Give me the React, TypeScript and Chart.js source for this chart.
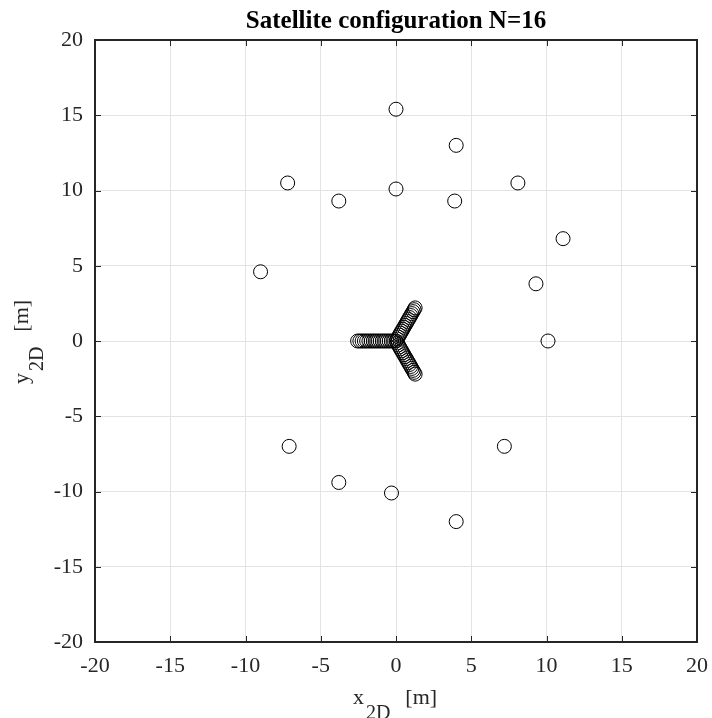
import React, { useEffect, useRef } from "react";
import { Chart, registerables } from "chart.js";

Chart.register(...registerables);

const TITLE = "Satellite configuration N=16";
const X_TICKS = [-20, -15, -10, -5, 0, 5, 10, 15, 20];
const Y_TICKS = [-20, -15, -10, -5, 0, 5, 10, 15, 20];

// outer satellites
const satX = [0.0, 4.0, -7.2, 0.0, -3.8, 3.9, 8.1, 11.1, 9.3, -9.0, 10.1, -7.1, 7.2, -3.8, -0.3, 4.0];
const satY = [15.4, 13.0, 10.5, 10.1, 9.3, 9.3, 10.5, 6.8, 3.8, 4.6, 0.0, -7.0, -7.0, -9.4, -10.1, -12.0];

// central three-armed cluster
const leftArmX = [0, -0.15, -0.3, -0.45, -0.6, -0.75, -0.9, -1.05, -1.2, -1.35, -1.5, -1.65, -1.8, -1.95, -2.1, -2.25, -2.4, -2.55];
const leftArmY = [0, 0, 0, 0, 0, 0, 0, 0, 0, 0, 0, 0, 0, 0, 0, 0, 0, 0];
const upArmX = [0.08, 0.15, 0.23, 0.3, 0.38, 0.45, 0.53, 0.6, 0.68, 0.75, 0.83, 0.9, 0.98, 1.05, 1.13, 1.2, 1.27];
const upArmY = [0.13, 0.26, 0.39, 0.52, 0.65, 0.78, 0.91, 1.04, 1.17, 1.3, 1.43, 1.56, 1.69, 1.82, 1.95, 2.08, 2.2];
const downArmX = [0.08, 0.15, 0.23, 0.3, 0.38, 0.45, 0.53, 0.6, 0.68, 0.75, 0.83, 0.9, 0.98, 1.05, 1.13, 1.2, 1.27];
const downArmY = [-0.13, -0.26, -0.39, -0.52, -0.65, -0.78, -0.91, -1.04, -1.17, -1.3, -1.43, -1.56, -1.69, -1.82, -1.95, -2.08, -2.2];

const FONT = "'Liberation Serif', 'Times New Roman', serif";
const TXT = "#262626";

const zip = (xs: number[], ys: number[]) => xs.map((x, i) => ({ x, y: ys[i] }));

const framePlugin = {
  id: "frame",
  afterDatasetsDraw(chart: any) {
    const { ctx, chartArea: a, scales } = chart;
    ctx.save();
    ctx.strokeStyle = "#262626";
    ctx.lineWidth = 1;
    const L = 6;
    ctx.beginPath();
    X_TICKS.forEach((t) => {
      const px = Math.round(scales.x.getPixelForValue(t)) + 0.5;
      ctx.moveTo(px, a.bottom);
      ctx.lineTo(px, a.bottom - L);
      ctx.moveTo(px, a.top);
      ctx.lineTo(px, a.top + L);
    });
    Y_TICKS.forEach((t) => {
      const py = Math.round(scales.y.getPixelForValue(t)) + 0.5;
      ctx.moveTo(a.left, py);
      ctx.lineTo(a.left + L, py);
      ctx.moveTo(a.right, py);
      ctx.lineTo(a.right - L, py);
    });
    ctx.stroke();
    ctx.lineWidth = 2;
    ctx.strokeRect(a.left, a.top, a.right - a.left, a.bottom - a.top);
    ctx.restore();
  },
  afterDraw(chart: any) {
    const { ctx } = chart;
    ctx.save();
    ctx.fillStyle = "#000";
    // title
    ctx.font = `bold 25px ${FONT}`;
    ctx.textAlign = "center";
    ctx.textBaseline = "alphabetic";
    ctx.fillText(TITLE, 396, 28);

    const drawSub = (main: string, sub: string, rest: string, cx: number, base: number) => {
      ctx.textBaseline = "alphabetic";
      ctx.textAlign = "left";
      const mainFont = `22px ${FONT}`;
      const subFont = `20px ${FONT}`;
      const g1 = 2;
      const g2 = 15;
      ctx.font = mainFont;
      const w1 = ctx.measureText(main).width;
      const w3 = ctx.measureText(rest).width;
      ctx.font = subFont;
      const w2 = ctx.measureText(sub).width;
      let x = cx - (w1 + g1 + w2 + g2 + w3) / 2;
      ctx.font = mainFont;
      ctx.fillText(main, x, base);
      x += w1 + g1;
      ctx.font = subFont;
      ctx.fillText(sub, x, base + 15);
      x += w2 + g2;
      ctx.font = mainFont;
      ctx.fillText(rest, x, base);
    };
    ctx.fillStyle = TXT;
    drawSub("x", "2D", "[m]", 395, 704);
    ctx.save();
    ctx.translate(28, 342);
    ctx.rotate(-Math.PI / 2);
    drawSub("y", "2D", "[m]", 0, 0);
    ctx.restore();
    ctx.restore();
  },
};

export default function App() {
  const ref = useRef<HTMLCanvasElement | null>(null);
  useEffect(() => {
    if (!ref.current) return;
    const chart = new Chart(ref.current, {
      type: "scatter",
      data: {
        datasets: [
          { data: zip(satX, satY) },
          { data: zip(leftArmX, leftArmY) },
          { data: zip(upArmX, upArmY) },
          { data: zip(downArmX, downArmY) },
        ].map((d) => ({
          ...d,
          pointStyle: "circle",
          pointRadius: 7,
          pointBorderWidth: 1,
          pointBorderColor: "#000",
          pointBackgroundColor: "rgba(0,0,0,0)",
          showLine: false,
        })),
      },
      options: {
        animation: false,
        responsive: false,
        layout: { padding: { top: 40, right: 15, left: 0, bottom: 0 } },
        plugins: { legend: { display: false }, tooltip: { enabled: false }, title: { display: false } },
        scales: {
          x: {
            type: "linear",
            min: -20,
            max: 20,
            afterFit: (s: any) => {
              s.height = 76;
              s.paddingLeft = 0;
              s.paddingRight = 0;
            },
            afterBuildTicks: (s: any) => { s.ticks = X_TICKS.map((v) => ({ value: v })); },
            grid: { color: "#e3e3e3", drawTicks: false },
            border: { display: false },
            ticks: { font: { family: FONT, size: 22 }, color: TXT, padding: 11, maxRotation: 0 },
          },
          y: {
            type: "linear",
            min: -20,
            max: 20,
            afterFit: (s: any) => {
              s.width = 95;
              s.paddingTop = 0;
              s.paddingBottom = 0;
            },
            afterBuildTicks: (s: any) => { s.ticks = Y_TICKS.map((v) => ({ value: v })); },
            grid: { color: "#e3e3e3", drawTicks: false },
            border: { display: false },
            ticks: { font: { family: FONT, size: 22 }, color: TXT, padding: 12 },
          },
        },
      },
      plugins: [framePlugin],
    } as any);
    return () => chart.destroy();
  }, []);
  return (
    <div style={{ position: "fixed", left: 0, top: 0, width: 712, height: 718, background: "#fff" }}>
      <canvas ref={ref} width={712} height={718} style={{ display: "block" }} />
    </div>
  );
}
